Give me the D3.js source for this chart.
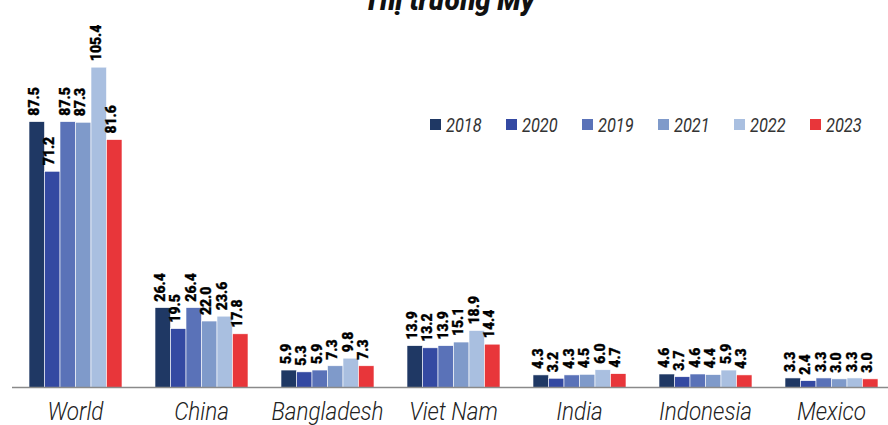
<!DOCTYPE html>
<html><head><meta charset="utf-8">
<script src="https://cdn.jsdelivr.net/npm/d3@7/dist/d3.min.js"></script>
<style>
html,body{margin:0;padding:0;background:#fff;}
svg{display:block;}
</style></head>
<body>
<script>
const categories = ["World","China","Bangladesh","Viet Nam","India","Indonesia","Mexico"];
const seriesNames = ["2018","2020","2019","2021","2022","2023"];
const s2018 = [87.5,26.4,5.9,13.9,4.3,4.6,3.3];
const s2020 = [71.2,19.5,5.3,13.2,3.2,3.7,2.4];
const s2019 = [87.5,26.4,5.9,13.9,4.3,4.6,3.3];
const s2021 = [87.3,22.0,7.3,15.1,4.5,4.4,3.0];
const s2022 = [105.4,23.6,9.8,18.9,6.0,5.9,3.3];
const s2023 = [81.6,17.8,7.3,14.4,4.7,4.3,3.0];
const seriesValues = [s2018,s2020,s2019,s2021,s2022,s2023];
const colors = ["#1f3864","#3449a2","#5a72b8","#7f9aca","#a9bfe0","#e8363a"];
const title = "Thị trường Mỹ";

const W = 888, H = 425;
const FONT = "Roboto, 'DejaVu Sans', sans-serif";
const svg = d3.select("body").append("svg").attr("width", W).attr("height", H);

const x0 = d3.scaleBand().domain(categories).range([12, 895]).paddingInner(0.262).paddingOuter(0.135);
const x1 = d3.scaleBand().domain(seriesNames).range([0, x0.bandwidth()]);
const y = d3.scaleLinear().domain([0, 100]).range([388, 83.6]);

// title
svg.append("text").attr("transform", "translate(449,10) scale(0.98,1)").attr("text-anchor", "middle")
  .style("font-family", FONT).style("font-weight", "900").style("font-style", "italic")
  .style("font-size", "28px").attr("fill", "#111").text(title);

const groups = svg.append("g").selectAll("g").data(categories).join("g")
  .attr("transform", d => `translate(${x0(d)},0)`);

groups.each(function(cat, ci) {
  const g = d3.select(this);
  seriesNames.forEach((s, si) => {
    const v = seriesValues[si][ci];
    g.append("rect").attr("x", x1(s)).attr("width", x1.bandwidth())
      .attr("y", y(v)).attr("height", y(0) - y(v))
      .attr("fill", colors[si]).attr("stroke", "#fff").attr("stroke-width", 0.6);
    const cx = x1(s) + x1.bandwidth() / 2;
    const ty = y(v) - 6;
    g.append("text").attr("transform", `translate(${cx + 2.2},${ty}) rotate(-90) scale(0.93,1)`)
      .style("font-family", FONT).style("font-weight", "900").style("font-size", "15px")
      .attr("fill", "#000").attr("stroke", "#000").attr("stroke-width", 0.35)
      .text(v.toFixed(1));
  });
});

// baseline axis
const xAxis = d3.axisBottom(x0).tickSize(0).tickPadding(0);
const ax = svg.append("g").attr("transform", "translate(0,387.5)").call(xAxis);
ax.select(".domain").attr("d", "M12,0H888").attr("stroke", "#8a8a8a").attr("stroke-width", 1.6);
ax.selectAll(".tick text").attr("y", null).attr("dy", null)
  .attr("transform", "translate(0,32) scale(0.9,1)")
  .style("font-family", FONT).style("font-style", "italic").style("font-weight", "300").style("font-size", "25px")
  .attr("fill", "#222");

// legend
const leg = svg.append("g").selectAll("g").data(seriesNames).join("g")
  .attr("transform", (d, i) => `translate(${430 + i * 76},119)`);
leg.append("rect").attr("width", 11).attr("height", 11).attr("fill", (d, i) => colors[i]);
leg.append("text").attr("transform", "translate(16,12.5) scale(0.78,1)")
  .style("font-family", FONT).style("font-style", "italic").style("font-weight", "400").style("font-size", "21px")
  .attr("fill", "#333").text(d => d);
</script>
</body></html>
